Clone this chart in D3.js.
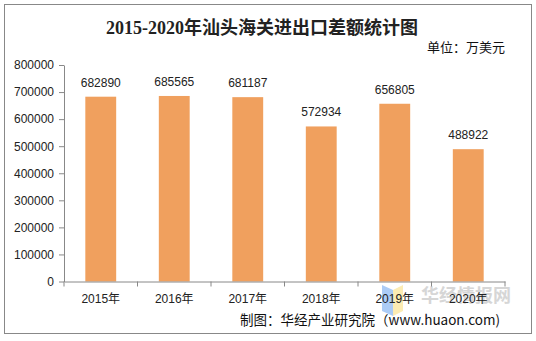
<!DOCTYPE html>
<html><head><meta charset="utf-8">
<script src="https://cdn.jsdelivr.net/npm/d3@7"></script>
<style>body{margin:0;background:#fff}svg{display:block}</style>
</head><body>
<script>
const categories = ["2015年","2016年","2017年","2018年","2019年","2020年"];
const values = [682890,685565,681187,572934,656805,488922];
const yTicks = [0,100000,200000,300000,400000,500000,600000,700000,800000];
const title = "2015-2020年汕头海关进出口差额统计图";
const unit = "单位：万美元";
const source = "制图：华经产业研究院（www.huaon.com)";

const W=536,H=341;
const svg=d3.select("body").append("svg").attr("width",W).attr("height",H);
svg.append("rect").attr("x",4.5).attr("y",4.5).attr("width",527).attr("height",329)
  .attr("fill","#fff").attr("stroke","#888").attr("stroke-width",1);

const m={l:64,r:505,t:65,b:281.5};
const x=d3.scaleBand().domain(categories).range([m.l,m.r]).paddingInner(0.58).paddingOuter(0.29);
const y=d3.scaleLinear().domain([0,800000]).range([m.b,m.t]);

const sans='"Liberation Sans", Arial, "Noto Sans CJK SC", sans-serif';

svg.append("text").attr("x",262).attr("y",34).attr("text-anchor","middle")
  .attr("font-family",'"Liberation Serif","Noto Sans CJK SC",serif').attr("font-weight","bold")
  .attr("font-size",18).attr("fill","#222").text(title);
svg.append("text").attr("x",505).attr("y",52).attr("text-anchor","end")
  .attr("font-family",'"Noto Sans CJK SC",sans-serif').attr("font-size",13).attr("fill","#111").text(unit);

// watermark
const wm=svg.append("g");
wm.append("path").attr("d","M382,285 L393,290 L393,316 L382,311 Z").attr("fill","#9ec3f5").attr("opacity",0.85);
wm.append("path").attr("d","M393,290 L403,285 L403,311 L393,316 Z").attr("fill","#fbe9a6").attr("opacity",0.85);
wm.append("text").attr("x",421).attr("y",302).attr("font-family",'"Noto Sans CJK SC",sans-serif')
  .attr("font-weight","bold").attr("font-size",18).attr("fill","#d6d6d6").text("华经情报网");

// bars
svg.append("g").selectAll("rect").data(values).join("rect")
  .attr("x",(d,i)=>x(categories[i])).attr("width",x.bandwidth())
  .attr("y",d=>y(d)).attr("height",d=>y(0)-y(d)).attr("fill","#F0A05E");

svg.append("g").selectAll("text").data(values).join("text")
  .attr("x",(d,i)=>x(categories[i])+x.bandwidth()/2).attr("y",d=>y(d)-10)
  .attr("text-anchor","middle").attr("font-family",sans).attr("font-size",12).attr("fill","#222").text(d=>d);

// y axis
const ya=svg.append("g").attr("transform",`translate(${m.l},0)`)
  .call(d3.axisLeft(y).tickValues(yTicks).tickFormat(d3.format("d")).tickSize(5).tickSizeOuter(0));
ya.select(".domain").attr("stroke","#888");
ya.selectAll(".tick line").attr("stroke","#888");
ya.selectAll("text").attr("font-family",sans).attr("font-size",12).attr("fill","#222").attr("x",-10);

// x axis
const xa=svg.append("g").attr("transform",`translate(0,${m.b})`)
  .call(d3.axisBottom(x).tickSize(0).tickSizeOuter(0));
xa.select(".domain").attr("stroke","#888");
xa.selectAll("text").attr("font-family",sans).attr("font-size",12).attr("fill","#222").attr("dy","0").attr("y",21);
const edges=categories.map(c=>x(c)-x.step()*x.paddingInner()/2);
edges.push(m.r);
xa.selectAll(".edge").data(edges).join("line").attr("class","edge")
  .attr("x1",d=>d).attr("x2",d=>d).attr("y1",0).attr("y2",5).attr("stroke","#888");

svg.append("text").attr("x",500).attr("y",325).attr("text-anchor","end")
  .attr("font-family",'"Noto Sans CJK SC",sans-serif').attr("font-size",13.5).attr("fill","#111").text(source);
</script>
</body></html>
